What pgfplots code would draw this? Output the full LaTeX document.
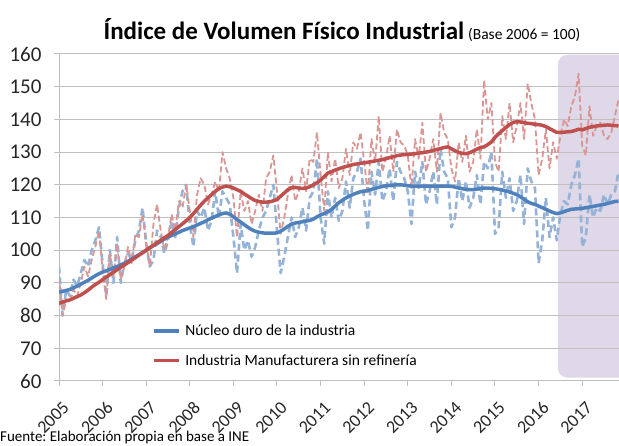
\documentclass[border=0pt]{standalone}
\usepackage{fontspec}
\setmainfont{Carlito}
\usepackage{pgfplots}
\usepackage{pgfplotstable}
\pgfplotsset{compat=1.18}
\definecolor{cblue}{RGB}{79,129,189}
\definecolor{cred}{RGB}{192,80,77}
\definecolor{lblue}{RGB}{149,179,215}
\definecolor{lred}{RGB}{217,150,148}
\definecolor{shadecol}{RGB}{222,216,232}
\definecolor{gridc}{RGB}{191,191,191}

\pgfplotstableread{
yr m b r bt rt
2005 1 95 92 87.2 83.8
2005 2 80 80 87.4 84.1
2005 3 88 85 87.7 84.5
2005 4 86 84 88.0 84.8
2005 5 91 88 88.5 85.3
2005 6 89 86 89.0 85.8
2005 7 93 90 89.6 86.3
2005 8 97 95 90.2 87.0
2005 9 95 92 90.8 87.8
2005 10 100 97 91.5 88.7
2005 11 103 101 92.2 89.5
2005 12 107 106 92.8 90.2
2006 1 96 94 93.3 91.0
2006 2 86 85 93.7 91.8
2006 3 100 99 94.1 92.5
2006 4 90 92 94.6 93.3
2006 5 104 102 95.0 94.0
2006 6 90 91 95.5 94.8
2006 7 96 95 96.0 95.5
2006 8 99 101 96.6 96.2
2006 9 97 96 97.3 97.0
2006 10 103 105 98.0 97.7
2006 11 106 104 98.6 98.5
2006 12 113 111 99.3 99.2
2007 1 102 102 100.0 100.0
2007 2 95 95 100.7 100.8
2007 3 97 108 101.4 101.5
2007 4 106 114 102.0 102.3
2007 5 104 106 102.7 103.0
2007 6 99 100 103.4 103.8
2007 7 103 104 104.0 104.5
2007 8 109 111 104.5 105.4
2007 9 104 106 105.0 106.3
2007 10 113 115 105.5 107.2
2007 11 118 113 106.0 108.1
2007 12 120 120 106.4 109.0
2008 1 108 112 106.8 110.0
2008 2 101 104 107.2 111.2
2008 3 112 117 107.7 112.5
2008 4 110 122 108.2 113.8
2008 5 113 120 108.7 115.0
2008 6 106 114 109.3 116.0
2008 7 109 117 109.8 117.0
2008 8 118 121 110.3 118.0
2008 9 110 118 110.8 118.8
2008 10 118 130 111.2 119.3
2008 11 116 125 111.4 119.6
2008 12 114 122 111.0 119.4
2009 1 104 116 110.2 119.0
2009 2 93 104 109.4 118.5
2009 3 108 118 108.6 118.0
2009 4 100 112 107.8 117.2
2009 5 103 115 107.0 116.5
2009 6 98 108 106.3 115.8
2009 7 101 112 105.8 115.2
2009 8 106 117 105.5 114.9
2009 9 110 112 105.3 114.7
2009 10 112 122 105.2 114.7
2009 11 116 124 105.2 114.8
2009 12 120 129 105.2 115.1
2010 1 106 118 105.3 115.5
2010 2 93 105 105.8 116.5
2010 3 98 110 106.5 117.5
2010 4 104 117 107.3 118.5
2010 5 110 123 108.0 119.1
2010 6 104 115 108.3 119.2
2010 7 107 118 108.5 119.0
2010 8 113 125 108.7 118.9
2010 9 106 118 108.9 119.0
2010 10 116 128 109.1 119.4
2010 11 118 127 109.5 120.0
2010 12 128 136 110.2 120.6
2011 1 110 123 110.8 121.5
2011 2 102 112 111.2 122.5
2011 3 118 130 111.7 123.6
2011 4 110 121 112.5 124.0
2011 5 116 128 113.5 124.5
2011 6 109 119 114.5 124.9
2011 7 112 122 115.3 125.3
2011 8 121 131 116.0 125.6
2011 9 113 123 116.6 125.9
2011 10 122 133 117.1 126.2
2011 11 124 131 117.5 126.4
2011 12 128 136 117.9 126.6
2012 1 115 127 118.0 126.7
2012 2 106 117 118.3 126.9
2012 3 124 134 118.6 127.1
2012 4 117 127 118.9 127.3
2012 5 127 141 119.2 127.5
2012 6 115 124 119.5 127.7
2012 7 118 128 119.7 128.0
2012 8 125 135 119.8 128.3
2012 9 115 124 119.9 128.6
2012 10 127 137 120.0 128.9
2012 11 124 133 120.0 129.1
2012 12 122 132 119.9 129.2
2013 1 118 129 119.7 129.3
2013 2 108 119 119.6 129.4
2013 3 124 134 119.6 129.5
2013 4 119 128 119.6 129.7
2013 5 127 139 119.6 129.8
2013 6 114 124 119.6 130.0
2013 7 118 128 119.6 130.2
2013 8 124 134 119.6 130.5
2013 9 114 124 119.6 130.8
2013 10 131 142 119.6 131.1
2013 11 124 136 119.6 131.4
2013 12 122 134 119.6 131.6
2014 1 107 125 119.5 131.0
2014 2 110 121 119.3 130.4
2014 3 122 133 119.0 129.9
2014 4 115 127 118.8 129.6
2014 5 121 135 118.6 129.5
2014 6 113 124 118.5 129.8
2014 7 116 127 118.5 130.3
2014 8 123 137 118.7 130.9
2014 9 114 128 118.9 131.4
2014 10 127 152 119.0 131.6
2014 11 125 140 119.0 132.3
2014 12 130 145 118.9 133.1
2015 1 105 127 118.8 134.5
2015 2 107 124 118.6 135.6
2015 3 124 141 118.4 136.6
2015 4 116 134 118.1 137.5
2015 5 122 145 117.8 138.4
2015 6 112 133 117.4 139.1
2015 7 115 138 117.0 139.3
2015 8 123 145 116.3 139.2
2015 9 108 134 115.6 139.0
2015 10 125 151 114.8 138.8
2015 11 121 145 114.3 138.7
2015 12 119 140 114.0 138.5
2016 1 96 123 113.5 138.4
2016 2 103 128 113.0 138.2
2016 3 116 137 112.5 137.8
2016 4 104 125 112.0 137.2
2016 5 110 133 111.5 136.6
2016 6 103 128 111.2 136.0
2016 7 111 135 111.4 136.0
2016 8 115 140 111.8 136.1
2016 9 114 138 112.2 136.2
2016 10 120 144 112.5 136.3
2016 11 123 147 112.6 136.6
2016 12 128 154 112.7 137.0
2017 1 101 132 112.8 136.8
2017 2 104 129 113.0 137.2
2017 3 117 144 113.2 137.6
2017 4 110 135 113.4 137.8
2017 5 113 138 113.6 138.0
2017 6 112 139 113.8 138.1
2017 7 117 135 114.0 138.2
2017 8 114 134 114.3 138.3
2017 9 117 136 114.6 138.2
2017 10 118 141 114.9 138.1
2017 11 124 146 115.0 138.0
}\data

\begin{document}
\frenchspacing
\begin{tikzpicture}
\begin{axis}[
  set layers,
  at={(59pt,65pt)}, anchor=south west,
  scale only axis, width=560pt, height=327pt,
  xmin=2005, xmax=2017.844, ymin=60, ymax=160,
  ytick={60,70,...,160}, xtick={2005,...,2017},
  axis lines=left,
  axis line style={-, draw=gridc, line width=1pt},
  ymajorgrids, grid style={draw=gridc, line width=1pt},
  tick align=outside, major tick length=5pt,
  tick style={draw=gridc, line width=1pt},
  tick label style={font=\fontsize{21}{23}\selectfont, text=black!85},
  /pgf/number format/assume math mode=true,
  /pgf/number format/1000 sep={},
  yticklabel style={xshift=-9pt},
  xticklabel={\fontsize{18}{20}\selectfont\pgfmathprintnumber{\tick}},
  xticklabel style={rotate=45, anchor=north east, inner sep=0pt, xshift=-8pt, yshift=-12pt},
  legend style={at={(rel axis cs:0.16,0.184)}, anchor=north west,
    draw=none, fill=none, font=\fontsize{15.5}{18}\selectfont,
    row sep=13pt, column sep=3pt, cells={anchor=west}},
  legend image code/.code={\draw[#1] (0pt,0pt) -- (25pt,0pt);},
  line join=round,
]
\begin{pgfonlayer}{axis background}
\fill[shadecol, rounded corners=10pt] (axis cs:2016.44,61) rectangle (axis cs:2018.4,159.8);
\end{pgfonlayer}
\addplot[lblue, line width=2.6pt, dash pattern=on 7pt off 4pt, forget plot]
  table[x expr={\thisrow{yr}+(\thisrow{m}-1)/12}, y=b] {\data};
\addplot[lred, line width=1.8pt, dash pattern=on 6pt off 3pt, forget plot]
  table[x expr={\thisrow{yr}+(\thisrow{m}-1)/12}, y=r] {\data};
\addplot[cblue, line width=3.5pt]
  table[x expr={\thisrow{yr}+(\thisrow{m}-1)/12}, y=bt] {\data};
\addlegendentry{Núcleo duro de la industria}
\addplot[cred, line width=3.5pt]
  table[x expr={\thisrow{yr}+(\thisrow{m}-1)/12}, y=rt] {\data};
\addlegendentry{Industria Manufacturera sin refinería}
\end{axis}
\node[anchor=base] at (342pt,406.5pt) {{\bfseries\fontsize{25}{29}\selectfont Índice de Volumen Físico Industrial}\hspace{4pt}{\fontsize{15.5}{17}\selectfont (Base 2006 = 100)}};
\node[anchor=base west, inner sep=0pt, font=\fontsize{15}{18}\selectfont] at (0pt,4pt) {Fuente: Elaboración propia en base a INE};
\pgfresetboundingbox
\path[use as bounding box] (0,0) rectangle (619pt,446pt);
\end{tikzpicture}
\end{document}
